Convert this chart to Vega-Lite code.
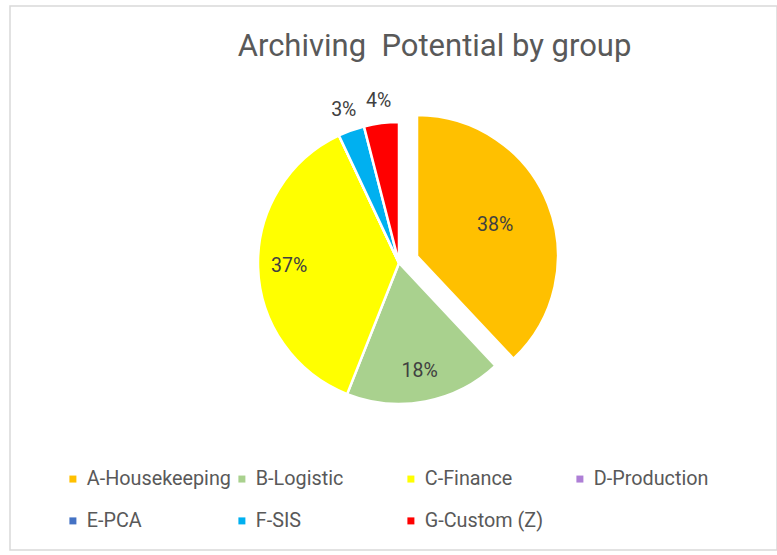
{
  "$schema": "https://vega.github.io/schema/vega-lite/v6.json",
  "width": 767,
  "height": 544,
  "autosize": "none",
  "padding": {"left": 10, "top": 6, "right": 0, "bottom": 5},
  "background": "white",
  "view": {"stroke": "#d9d9d9", "strokeWidth": 1.5, "fill": "white"},
  "title": {
    "text": "Archiving\u00a0 Potential by group",
    "font": "Roboto",
    "fontSize": 31,
    "fontWeight": "normal",
    "color": "#595959",
    "anchor": "middle",
    "frame": "group",
    "baseline": "alphabetic",
    "offset": -81,
    "dx": 41
  },
  "data": {
    "values": [
      {"group": "A-Housekeeping", "share": 0.38},
      {"group": "B-Logistic", "share": 0.18},
      {"group": "C-Finance", "share": 0.37},
      {"group": "D-Production", "share": 0},
      {"group": "E-PCA", "share": 0},
      {"group": "F-SIS", "share": 0.03},
      {"group": "G-Custom (Z)", "share": 0.04}
    ]
  },
  "encoding": {
    "theta": {"field": "share", "type": "quantitative", "stack": true},
    "order": {"field": "group", "type": "ordinal", "sort": "ascending"},
    "color": {
      "field": "group",
      "type": "nominal",
      "scale": {
        "domain": ["A-Housekeeping", "B-Logistic", "C-Finance", "D-Production", "E-PCA", "F-SIS", "G-Custom (Z)"],
        "range": ["#FFC000", "#A9D18E", "#FFFF00", "#AE7FD6", "#4472C4", "#00B0F0", "#FF0000"]
      },
      "legend": {
        "orient": "none",
        "legendX": 53,
        "legendY": 463,
        "columns": 4,
        "direction": "horizontal",
        "title": null,
        "symbolType": "square",
        "symbolSize": 49,
        "symbolStrokeWidth": 0,
        "labelFont": "Roboto",
        "labelFontSize": 19.8,
        "labelColor": "#595959",
        "labelOffset": 4,
        "columnPadding": 1,
        "rowPadding": 21,
        "gridAlign": "all",
        "padding": 0,
        "labelLimit": 300
      }
    }
  },
  "layer": [
    {
      "mark": {
        "type": "arc",
        "outerRadius": 141,
        "x": 389,
        "y": 257,
        "stroke": "white",
        "strokeWidth": 2.5,
        "xOffset": {"expr": "datum.group === 'A-Housekeeping' ? 18 : 0"},
        "yOffset": {"expr": "datum.group === 'A-Housekeeping' ? -7 : 0"}
      }
    },
    {
      "mark": {
        "type": "text",
        "x": 389,
        "y": 257,
        "font": "Roboto",
        "fontSize": 19.5,
        "align": "center",
        "baseline": "middle",
        "radius": {"expr": "datum.group === 'A-Housekeeping' ? 84 : (datum.share < 0.05 ? 163 : 110)"},
        "xOffset": {"expr": "datum.group === 'A-Housekeeping' ? 18 : 0"},
        "yOffset": {"expr": "datum.group === 'A-Housekeeping' ? -7 : 0"}
      },
      "encoding": {
        "text": {"condition": {"test": "datum.share > 0", "field": "share", "type": "quantitative", "format": ".0%"}, "value": ""},
        "detail": {"field": "group", "type": "nominal"},
        "color": {"value": "#404040"}
      }
    }
  ]
}
